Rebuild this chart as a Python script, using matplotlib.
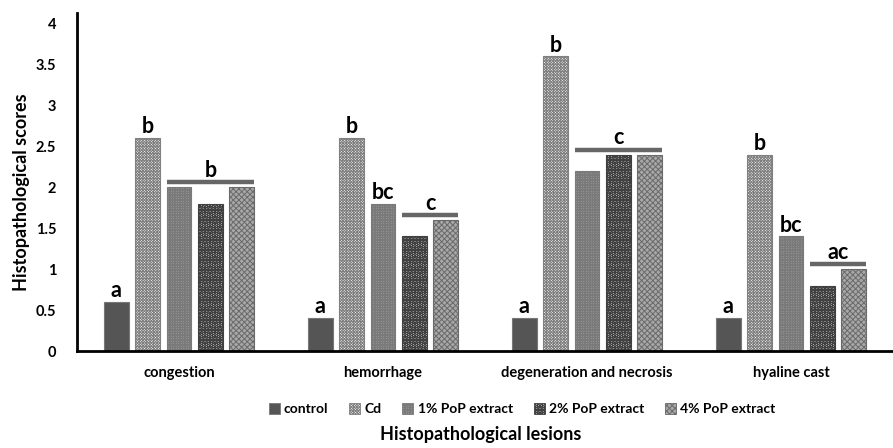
import numpy as np
import matplotlib
matplotlib.use("Agg")
import matplotlib.pyplot as plt
from matplotlib.patches import Patch

plt.rcParams['font.family'] = ['Lato', 'DejaVu Sans']
plt.rcParams['font.weight'] = 'bold'
plt.rcParams['hatch.linewidth'] = 0.7

# data
lesions = ['congestion', 'hemorrhage', 'degeneration and necrosis', 'hyaline cast']
groups = ['control', 'Cd', '1% PoP extract', '2% PoP extract', '4% PoP extract']
control = [0.6, 0.4, 0.4, 0.4]
cd = [2.6, 2.6, 3.6, 2.4]
pop1 = [2.0, 1.8, 2.2, 1.4]
pop2 = [1.8, 1.4, 2.4, 0.8]
pop4 = [2.0, 1.6, 2.4, 1.0]
series = [control, cd, pop1, pop2, pop4]

# significance letters
sig_single = [(0, 0, 'a'), (0, 1, 'b'), (1, 0, 'a'), (1, 1, 'b'), (1, 2, 'bc'),
              (2, 0, 'a'), (2, 1, 'b'), (3, 0, 'a'), (3, 1, 'b'), (3, 2, 'bc')]
sig_bars = [(0, 2, 4, 'b'), (1, 3, 4, 'c'), (2, 2, 4, 'c'), (3, 3, 4, 'ac')]

styles = [
    dict(facecolor='#555555', edgecolor='#777777', hatch=None),
    dict(facecolor='white', edgecolor='#808080', hatch='x' * 12),
    dict(facecolor='#b8b8b8', edgecolor='#7a7a7a', hatch='+' * 10),
    dict(facecolor='#e0e0e0', edgecolor='#404040', hatch='O' * 5),
    dict(facecolor='#a8a8a8', edgecolor='#6a6a6a', hatch='x' * 6),
]

fig = plt.figure(figsize=(8.93, 4.48), dpi=100)
ax = fig.add_axes([77 / 893, 97 / 448, 816 / 893, 338 / 448])

x = np.arange(len(lesions)) + 0.5
width = 0.122
step = 0.154
offsets = (np.arange(5) - 2) * step

for i, vals in enumerate(series):
    st = styles[i]
    ax.bar(x + offsets[i], vals, width, color=st['facecolor'], edgecolor=st['edgecolor'],
           hatch=st['hatch'], linewidth=0.8, label=groups[i], zorder=2)

for li, bi, txt in sig_single:
    ax.text(x[li] + offsets[bi], series[bi][li] + 0.01, txt, ha='center', va='bottom',
            fontsize=15.5, fontweight='bold')

for li, b0, b1, txt in sig_bars:
    top = max(series[b][li] for b in range(b0, b1 + 1))
    y = top + 0.06
    x0 = x[li] + offsets[b0] - width / 2
    x1 = x[li] + offsets[b1] + width / 2
    ax.plot([x0, x1], [y, y], color='#666666', lw=3.2, solid_capstyle='butt', zorder=3)
    ax.text((x0 + x1) / 2, y + 0.02, txt, ha='center', va='bottom', fontsize=15.5, fontweight='bold')

ax.set_xlim(0, 4)
ax.set_ylim(0, 4.13)
ax.set_xticks(x)
ax.set_xticklabels(lesions, fontsize=10.5, fontweight='bold')
ax.set_yticks([0, 0.5, 1, 1.5, 2, 2.5, 3, 3.5, 4])
ax.set_yticklabels(['0', '0.5', '1', '1.5', '2', '2.5', '3', '3.5', '4'], fontsize=10.5, fontweight='bold')
ax.tick_params(axis='x', length=0, pad=11)
ax.tick_params(axis='y', length=0, pad=15)

for s in ['top', 'right']:
    ax.spines[s].set_visible(False)
for s in ['left', 'bottom']:
    ax.spines[s].set_linewidth(2)
    ax.spines[s].set_color('black')

ax.set_ylabel('Histopathological scores', fontsize=13, fontweight='bold')
ax.yaxis.set_label_coords(-0.058, 0.47)
fig.text(0.5 * (77 + 893) / 893 - 0.005, 8 / 448, 'Histopathological lesions', ha='center',
         fontsize=13, fontweight='bold')

handles = [Patch(facecolor=st['facecolor'], edgecolor=st['edgecolor'], hatch=st['hatch'], linewidth=0.6)
           for st in styles]
fig.legend(handles, groups, loc='center', bbox_to_anchor=(522 / 893, 1 - 409 / 448), ncol=5,
           frameon=False, fontsize=10, handlelength=0.8, handleheight=0.8, handletextpad=0.3,
           columnspacing=1.5)

fig.savefig('out.png', dpi=100)
